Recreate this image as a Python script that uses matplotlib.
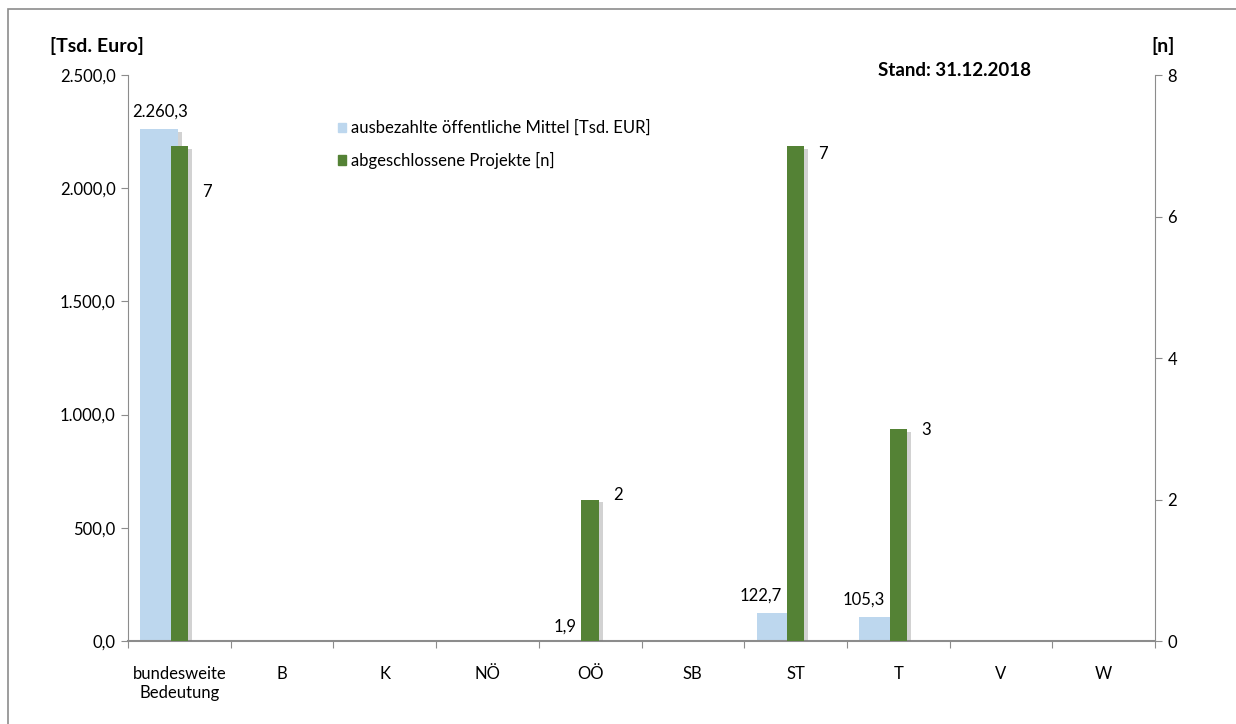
import matplotlib.pyplot as plt
import matplotlib.patheffects as pe
from matplotlib.patches import Rectangle, Patch

plt.rcParams['font.family'] = ['Lato', 'DejaVu Sans']

# Daten
categories = ["bundesweite\nBedeutung", "B", "K", "NÖ", "OÖ", "SB", "ST", "T", "V", "W"]
mittel = [2260.3, 0, 0, 0, 1.9, 0, 122.7, 105.3, 0, 0]       # Tsd. EUR
projekte = [7, 0, 0, 0, 2, 0, 7, 3, 0, 0]                      # Anzahl

# Beschriftungs-Versatz (Punkte), wie im Original verschoben
blue_dx = [11, 0, 0, 0, 0, 0, 0, 0, 0, 0]
green_dy = [-33, 0, 0, 0, 3, 0, -6, -1, 0, 0]

blue = "#BDD7EE"
green = "#548235"
grey = "#8C8C8C"

def fmt_de(v):
    s = f"{v:,.1f}"
    return s.replace(",", "X").replace(".", ",").replace("X", ".")

fig = plt.figure(figsize=(12.36, 7.24), dpi=100)
fig.patches.append(Rectangle((8 / 1236, -0.01), 1.02, 1 - 9 / 724 + 0.01, transform=fig.transFigure,
                             fill=False, edgecolor=grey, linewidth=1.2))

ax = fig.add_axes([128 / 1236, 1 - 641 / 724, (1155 - 128) / 1236, (641 - 75) / 724])
ax2 = ax.twinx()
ax.set_zorder(1)
ax2.set_zorder(2)
ax.patch.set_visible(False)
ax2.patch.set_visible(False)

shadow = [pe.SimplePatchShadow(offset=(3, -2), shadow_rgbFace="#808080", alpha=0.35), pe.Normal()]

centers = [i + 0.5 for i in range(len(categories))]
b1 = ax.bar([c - 0.38 for c in centers], mittel, width=0.37, align="edge", color=blue, zorder=2)
for r in b1:
    r.set_path_effects(shadow)
b2 = ax2.bar(centers, projekte, width=0.17, color=green, zorder=3)
for r in b2:
    r.set_path_effects(shadow)

ax.set_xlim(0, 10)
ax.set_ylim(0, 2500)
ax2.set_ylim(0, 8)
ax.set_yticks([0, 500, 1000, 1500, 2000, 2500])
ax.set_yticklabels([fmt_de(v) for v in ax.get_yticks()])
ax2.set_yticks([0, 2, 4, 6, 8])

ax.set_xticks(range(0, 11))
ax.set_xticklabels([])
ax.set_xticks(centers, minor=True)
ax.set_xticklabels(categories, minor=True, fontsize=12)
ax.tick_params(axis="x", which="minor", length=0, pad=18)
ax.tick_params(axis="x", which="major", length=5, color=grey)

for a in (ax, ax2):
    for s in a.spines.values():
        s.set_visible(False)
    a.tick_params(axis="y", length=5, color=grey, labelsize=12, pad=4)
ax.spines["left"].set_visible(True)
ax.spines["left"].set_color(grey)
ax.spines["bottom"].set_visible(True)
ax.spines["bottom"].set_color(grey)
ax.spines["bottom"].set_linewidth(1.5)
ax2.spines["right"].set_visible(True)
ax2.spines["right"].set_color(grey)

# Datenbeschriftungen
for i, (c, v) in enumerate(zip(centers, mittel)):
    if v <= 0:
        continue
    if v < 10:
        ax.annotate(fmt_de(v), (c - 0.09, v), xytext=(-3, 4), textcoords="offset points",
                    ha="right", va="bottom", fontsize=12)
    else:
        ax.annotate(fmt_de(v), (c - 0.34, v), xytext=(blue_dx[i], 7), textcoords="offset points",
                    ha="center", va="bottom", fontsize=12)

for i, (c, v) in enumerate(zip(centers, projekte)):
    if v <= 0:
        continue
    ax2.annotate(str(v), (c + 0.085, v), xytext=(10, green_dy[i]), textcoords="offset points",
                 ha="left", va="center", fontsize=12)

fig.text(97 / 1236, 1 - 46 / 724, "[Tsd. Euro]", ha="center", va="center", fontsize=14, fontweight="bold")
fig.text(1163 / 1236, 1 - 46 / 724, "[n]", ha="center", va="center", fontsize=14, fontweight="bold")
fig.text(955 / 1236, 1 - 70 / 724, "Stand: 31.12.2018", ha="center", va="center", fontsize=13.5, fontweight="bold")

handles = [Patch(color=blue, label="ausbezahlte öffentliche Mittel [Tsd. EUR]"),
           Patch(color=green, label="abgeschlossene Projekte [n]")]
fig.legend(handles=handles, loc="upper left", bbox_to_anchor=(338 / 1236, 1 - 120 / 724),
           frameon=False, fontsize=12, handlelength=0.5, handleheight=0.5,
           handletextpad=0.3, labelspacing=0.95, borderaxespad=0, borderpad=0)

fig.savefig("out.png", dpi=100)
